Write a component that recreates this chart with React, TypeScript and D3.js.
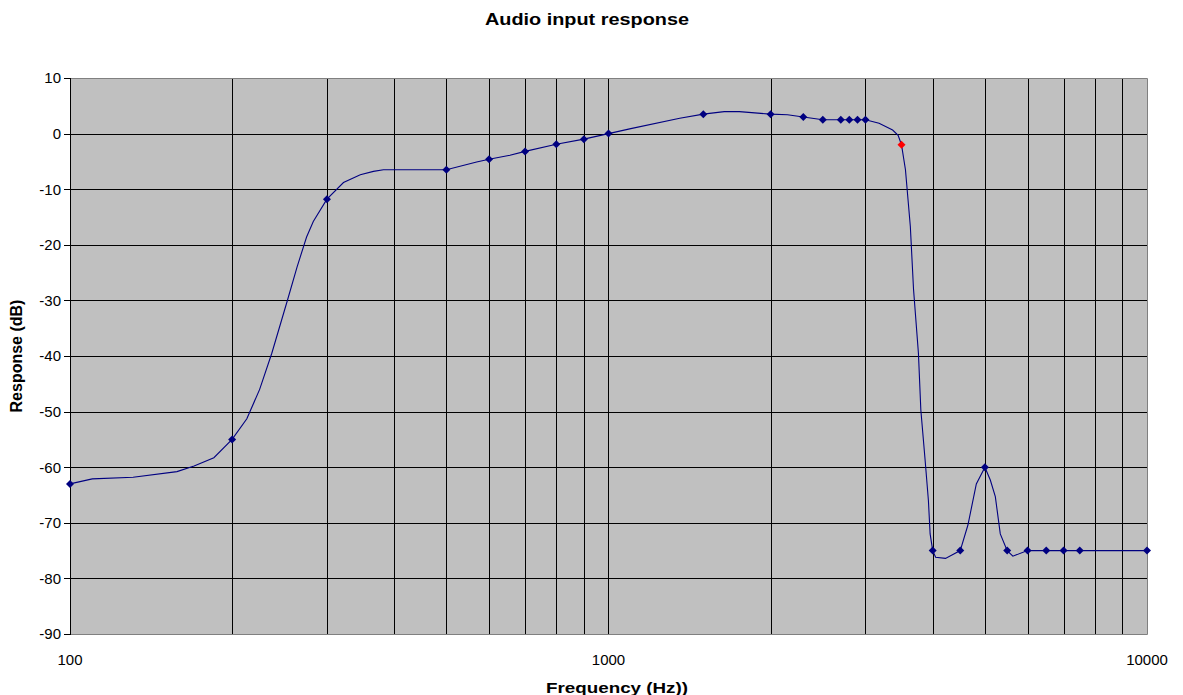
import React from "react";
import * as d3 from "d3";

// Marker series (measured points)
const markerFreq = [100, 200, 300, 500, 600, 700, 800, 900, 1000, 1500, 2000, 2300, 2500, 2700, 2800, 2900, 3000, 4000, 4500, 5000, 5500, 6000, 6500, 7000, 7500, 10000];
const markerDb = [-63, -55, -11.8, -6.5, -4.6, -3.2, -1.9, -1, 0, 3.5, 3.5, 3, 2.5, 2.5, 2.5, 2.5, 2.5, -75, -75, -60, -75, -75, -75, -75, -75, -75];

// Highlighted point (red)
const highlightFreq = [3500];
const highlightDb = [-2];

// Response curve
const curveFreq = [100, 110, 131, 158, 170, 185, 200, 213, 225, 237, 253, 264, 275, 283, 300, 322, 346, 366, 382, 500, 569, 600, 656, 700, 800, 900, 1000, 1100, 1356, 1500, 1640, 1750, 2000, 2150, 2300, 2500, 3000, 3180, 3370, 3450, 3500, 3560, 3635, 3685, 3763, 3802, 3872, 3927, 3956, 4000, 4050, 4225, 4500, 4650, 4820, 5000, 5117, 5228, 5340, 5500, 5635, 6000, 10000];
const curveDb = [-63, -62.1, -61.8, -60.8, -59.8, -58.3, -55, -51.3, -46, -39.5, -30.2, -24, -18.6, -15.8, -11.8, -8.8, -7.4, -6.8, -6.5, -6.5, -5.1, -4.6, -3.9, -3.2, -1.9, -1.0, 0, 0.9, 2.75, 3.5, 3.95, 3.95, 3.5, 3.4, 3.0, 2.5, 2.5, 1.85, 0.65, -0.3, -2, -6.5, -16.7, -28, -39.5, -49.7, -58.7, -66, -72, -75, -76.2, -76.4, -75, -70.4, -63, -60, -62.3, -65.3, -72, -75, -76, -75, -75];

const yTicks = [10, 0, -10, -20, -30, -40, -50, -60, -70, -80, -90];
const xLabelTicks = [100, 1000, 10000];
const xGridTicks = [200, 300, 400, 500, 600, 700, 800, 900, 1000, 2000, 3000, 4000, 5000, 6000, 7000, 8000, 9000];

const title = "Audio input response";
const xTitle = "Frequency (Hz))";
const yTitle = "Response (dB)";

export default function App() {
  const W = 1183, H = 695;
  const left = 70, right = 1147, top = 78, bottom = 634;
  const x = d3.scaleLog().domain([100, 10000]).range([left, right]);
  const y = d3.scaleLinear().domain([-90, 10]).range([bottom, top]);
  const font = "'Liberation Sans', Arial, Helvetica, sans-serif";

  const pts = curveFreq.map((f, i) => [f, curveDb[i]] as [number, number]);
  const line = d3.line<[number, number]>().x(d => x(d[0])).y(d => y(d[1])).curve(d3.curveLinear);

  const diamond = (cx: number, cy: number, r: number) =>
    `M${cx},${cy - r}L${cx + r},${cy}L${cx},${cy + r}L${cx - r},${cy}Z`;

  return (
    <svg width={W} height={H} style={{ position: "absolute", left: 0, top: 0, background: "#fff" }}>
      <rect x={left} y={top} width={right - left} height={bottom - top} fill="#C0C0C0" />
      {yTicks.filter(t => t !== 10 && t !== -90).map(t => (
        <line key={"hy" + t} x1={left} x2={right} y1={Math.round(y(t)) + 0.5} y2={Math.round(y(t)) + 0.5} stroke="#000" strokeWidth={1} />
      ))}
      {xGridTicks.map(t => (
        <line key={"gx" + t} x1={Math.round(x(t)) + 0.5} x2={Math.round(x(t)) + 0.5} y1={top} y2={bottom} stroke="#000" strokeWidth={1} />
      ))}
      {/* frame */}
      <path d={`M${left},${top + 0.5}H${right + 0.5}V${bottom + 0.5}H${left}`} fill="none" stroke="#808080" strokeWidth={1} />
      {/* y axis */}
      <line x1={left + 0.5} x2={left + 0.5} y1={top} y2={bottom + 1} stroke="#000" strokeWidth={1} />
      {yTicks.map(t => (
        <g key={"ty" + t}>
          <line x1={left - 6} x2={left} y1={Math.round(y(t)) + 0.5} y2={Math.round(y(t)) + 0.5} stroke="#000" strokeWidth={1} />
          <text x={left - 9} y={y(t)} dy="0.36em" textAnchor="end" fontFamily={font} fontSize={15} fill="#000">{t}</text>
        </g>
      ))}
      {xLabelTicks.map(t => (
        <text key={"tx" + t} x={x(t)} y={665} textAnchor="middle" fontFamily={font} fontSize={15} fill="#000">{t}</text>
      ))}
      <path d={line(pts) || ""} fill="none" stroke="#000080" strokeWidth={1.1} />
      {markerFreq.map((f, i) => (
        <path key={"m" + i} d={diamond(x(f), y(markerDb[i]), 4)} fill="#000080" />
      ))}
      {highlightFreq.map((f, i) => (
        <path key={"h" + i} d={diamond(x(f), y(highlightDb[i]), 4)} fill="#FF0000" />
      ))}
      <text x={587} y={25} textAnchor="middle" fontFamily={font} fontSize={17} fontWeight="bold" fill="#000" textLength={204} lengthAdjust="spacingAndGlyphs">{title}</text>
      <text x={617} y={693} textAnchor="middle" fontFamily={font} fontSize={15} fontWeight="bold" fill="#000" textLength={142} lengthAdjust="spacingAndGlyphs">{xTitle}</text>
      <text transform={`translate(22,356) rotate(-90)`} textAnchor="middle" fontFamily={font} fontSize={16} fontWeight="bold" fill="#000">{yTitle}</text>
    </svg>
  );
}
